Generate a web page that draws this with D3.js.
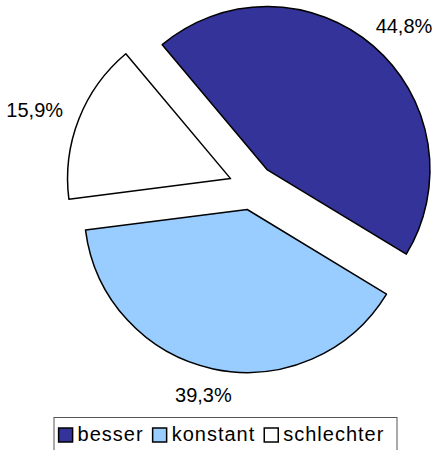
<!DOCTYPE html>
<html>
<head>
<meta charset="utf-8">
<script src="https://cdn.jsdelivr.net/npm/d3@7"></script>
<style>
  body { margin: 0; background: #fff; }
  text { font-family: "Liberation Sans", Arial, sans-serif; fill: #000; }
</style>
</head>
<body>
<div id="chart"></div>
<script>
// Data
const categories = ['besser', 'konstant', 'schlechter'];
const values = [44.8, 39.3, 15.9];
const colors = ['#333399', '#99CCFF', '#FFFFFF'];

const width = 438, height = 450;
const cx = 252, cy = 187;      // pie centre before explode
const radius = 163;
const explode = 23;            // every slice pulled out
const labelDist = 182;         // from slice apex to label box edge

const svg = d3.select('#chart').append('svg')
    .attr('width', width)
    .attr('height', height);

const pie = d3.pie()
    .sort(null)
    .value(i => values[i])
    .startAngle(-40 * Math.PI / 180)
    .endAngle(320 * Math.PI / 180);

const arc = d3.arc().innerRadius(0).outerRadius(radius);
const slices = pie(d3.range(values.length));

const mid = d => (d.startAngle + d.endAngle) / 2;
const offset = (d, r) => [r * Math.sin(mid(d)), -r * Math.cos(mid(d))];

const g = svg.append('g').attr('transform', `translate(${cx},${cy})`);

// Slices
g.selectAll('path.slice')
    .data(slices)
    .enter().append('path')
    .attr('class', 'slice')
    .attr('d', arc)
    .attr('transform', d => {
        const [dx, dy] = offset(d, explode);
        return `translate(${dx},${dy})`;
    })
    .attr('fill', d => colors[d.data])
    .attr('stroke', '#000')
    .attr('stroke-width', 1.5)
    .attr('stroke-linejoin', 'round');

// Percentage labels, box pushed outward like Excel's "outside end"
const labels = g.selectAll('text.label')
    .data(slices)
    .enter().append('text')
    .attr('class', 'label')
    .attr('dy', '0.35em')
    .attr('text-anchor', 'middle')
    .attr('font-size', '20px')
    .text(d => values[d.data].toFixed(1).replace('.', ',') + '%');

labels.each(function(d) {
    const w = this.getComputedTextLength();
    const h = 15;
    const [x, y] = offset(d, explode + labelDist);
    d3.select(this)
        .attr('x', x + (w / 2) * Math.sin(mid(d)))
        .attr('y', y - (h / 2) * Math.cos(mid(d)));
});

// Legend
const legendBox = { x: 54, y: 417.5, w: 343, h: 40 };
const legend = svg.append('g');
legend.append('rect')
    .attr('x', legendBox.x)
    .attr('y', legendBox.y)
    .attr('width', legendBox.w)
    .attr('height', legendBox.h)
    .attr('fill', '#fff')
    .attr('stroke', '#555')
    .attr('stroke-width', 1);

const items = legend.append('g');
let xPos = 0;
categories.forEach((c, i) => {
    const item = items.append('g').attr('transform', `translate(${xPos},0)`);
    item.append('rect')
        .attr('x', 0)
        .attr('y', -13)
        .attr('width', 14)
        .attr('height', 14)
        .attr('fill', colors[i])
        .attr('stroke', '#000')
        .attr('stroke-width', 1.5);
    const t = item.append('text')
        .attr('x', 19)
        .attr('y', 0)
        .attr('font-size', '20px')
        .style('letter-spacing', '1px')
        .text(c);
    xPos += 19 + t.node().getComputedTextLength() + 9;
});
const total = xPos - 9;
items.attr('transform',
    `translate(${legendBox.x + (legendBox.w - total) / 2 - 4},${441})`);
</script>
</body>
</html>
